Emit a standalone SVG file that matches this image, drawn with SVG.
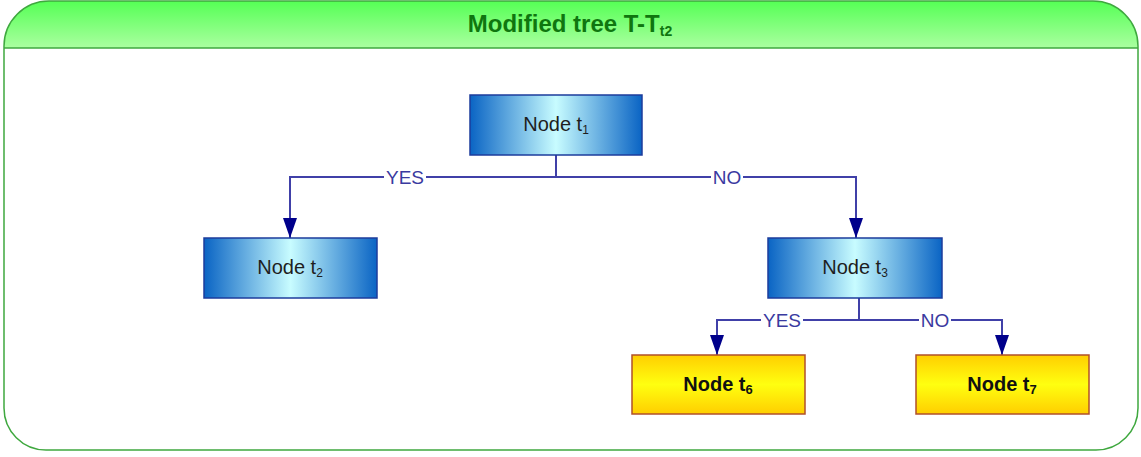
<svg xmlns="http://www.w3.org/2000/svg" width="1141" height="457" viewBox="0 0 1141 457">
  <defs>
    <linearGradient id="hdr" x1="0" y1="0" x2="0" y2="1">
      <stop offset="0" stop-color="#55ff55"/>
      <stop offset="1" stop-color="#aaffa0"/>
    </linearGradient>
    <linearGradient id="blue" x1="0" y1="0" x2="1" y2="0">
      <stop offset="0" stop-color="#0a64c4"/>
      <stop offset="0.5" stop-color="#c8fcff"/>
      <stop offset="1" stop-color="#0a64c4"/>
    </linearGradient>
    <linearGradient id="gold" x1="0" y1="0" x2="0" y2="1">
      <stop offset="0" stop-color="#ffce00"/>
      <stop offset="0.5" stop-color="#ffff10"/>
      <stop offset="1" stop-color="#ffce00"/>
    </linearGradient>
    <marker id="arr" markerWidth="20" markerHeight="14" refX="20" refY="7" orient="auto" markerUnits="userSpaceOnUse" viewBox="0 0 20 14">
      <path d="M0,0 L20,7 L0,14 Z" fill="#00008b"/>
    </marker>
  </defs>
  <style>
    .blue { fill: url(#blue); stroke: #1c3c9c; stroke-width: 1.5; }
    .gold { fill: url(#gold); stroke: #b0502a; stroke-width: 1.5; }
    .lbl { font-family: "Liberation Sans", Arial, sans-serif; font-size: 20px; fill: #1e1e1e; text-anchor: middle; }
    .lblb { font-family: "Liberation Sans", Arial, sans-serif; font-size: 20px; font-weight: bold; fill: #111; text-anchor: middle; }
    .wire { fill: none; stroke: #4040a8; stroke-width: 2; }
    .tag { font-family: "Liberation Sans", Arial, sans-serif; font-size: 19px; fill: #3a3aa0; text-anchor: middle; }
    .tagbg { fill: #ffffff; }
  </style>

  <!-- frame with header band -->
  <g id="frame">
    <path d="M4,48 L4,46 A45,45 0 0 1 49,1 L1093,1 A45,45 0 0 1 1138,46 L1138,48 Z" fill="url(#hdr)"/>
    <path d="M4,48 L4,408 A42,42 0 0 0 46,450 L1096,450 A42,42 0 0 0 1138,408 L1138,48" fill="#ffffff"/>
    <path d="M4,48 L4,46 A45,45 0 0 1 49,1 L1093,1 A45,45 0 0 1 1138,46 L1138,408 A42,42 0 0 1 1096,450 L46,450 A42,42 0 0 1 4,408 Z" fill="none" stroke="#3fa83f" stroke-width="1.5"/>
    <line x1="4" y1="48" x2="1138" y2="48" stroke="#3fa83f" stroke-width="1.5"/>
    <text x="570" y="32" font-family="Liberation Sans, Arial, sans-serif" font-size="24" font-weight="bold" fill="#0f760f" text-anchor="middle">Modified tree T-T<tspan font-size="14" dy="4">t2</tspan></text>
  </g>

  <!-- connectors -->
  <g id="connectors">
    <path class="wire" d="M556,155 V177"/>
    <path class="wire" d="M556,177 H290 V238" marker-end="url(#arr)"/>
    <path class="wire" d="M556,177 H856 V238" marker-end="url(#arr)"/>
    <path class="wire" d="M859,298 V320"/>
    <path class="wire" d="M859,320 H717 V355" marker-end="url(#arr)"/>
    <path class="wire" d="M859,320 H1002 V355" marker-end="url(#arr)"/>
    <rect class="tagbg" x="384" y="168" width="42" height="18"/>
    <text class="tag" x="405" y="184">YES</text>
    <rect class="tagbg" x="711" y="168" width="32" height="18"/>
    <text class="tag" x="727" y="184">NO</text>
    <rect class="tagbg" x="761" y="311" width="42" height="18"/>
    <text class="tag" x="782" y="327">YES</text>
    <rect class="tagbg" x="919" y="311" width="32" height="18"/>
    <text class="tag" x="935" y="327">NO</text>
  </g>

  <g id="node-t1">
    <rect class="blue" x="470" y="95" width="172" height="60"/>
    <text class="lbl" x="556" y="131">Node t<tspan font-size="12" dy="3">1</tspan></text>
  </g>
  <g id="node-t2">
    <rect class="blue" x="204" y="238" width="173" height="60"/>
    <text class="lbl" x="290" y="274">Node t<tspan font-size="12" dy="3">2</tspan></text>
  </g>
  <g id="node-t3">
    <rect class="blue" x="768" y="238" width="174" height="60"/>
    <text class="lbl" x="855" y="274">Node t<tspan font-size="12" dy="3">3</tspan></text>
  </g>
  <g id="node-t6">
    <rect class="gold" x="632" y="355" width="173" height="59"/>
    <text class="lblb" x="718" y="391">Node t<tspan font-size="13" dy="3">6</tspan></text>
  </g>
  <g id="node-t7">
    <rect class="gold" x="916" y="355" width="173" height="59"/>
    <text class="lblb" x="1002" y="391">Node t<tspan font-size="13" dy="3">7</tspan></text>
  </g>
</svg>
